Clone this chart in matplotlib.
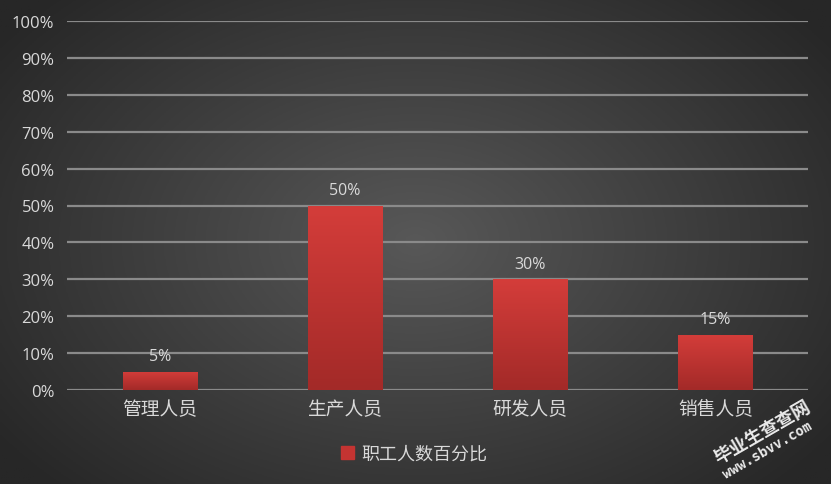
import numpy as np
import matplotlib
matplotlib.use("Agg")
import matplotlib.pyplot as plt
from matplotlib.patches import Rectangle

categories = ["管理人员", "生产人员", "研发人员", "销售人员"]
values = [5, 50, 30, 15]
series_name = "职工人数百分比"
yticks = [0, 10, 20, 30, 40, 50, 60, 70, 80, 90, 100]

plt.rcParams['font.family'] = ['Noto Sans CJK SC', 'DejaVu Sans']

W, H = 831, 485
fig = plt.figure(figsize=(W / 100, H / 100), dpi=100)

# radial gradient background
bg = fig.add_axes([0, 0, 1, 1], zorder=-10)
yy, xx = np.mgrid[0:1:200j, 0:1:340j]
r = np.sqrt(((xx - 0.5) / 0.62) ** 2 + ((yy - 0.5) / 0.72) ** 2)
r = np.clip(r, 0, 1)
c0 = np.array([0x58, 0x58, 0x58]) / 255
c1 = np.array([0x27, 0x27, 0x27]) / 255
img = c0[None, None, :] * (1 - r[..., None]) + c1[None, None, :] * r[..., None]
bg.imshow(img, extent=[0, 1, 0, 1], aspect='auto', origin='lower')
bg.set_axis_off()

ax = fig.add_axes([67 / W, 1 - 391 / H, (808 - 67) / W, (391 - 22) / H])
ax.patch.set_alpha(0)
x = np.arange(len(categories))
width = 0.4
bars = ax.bar(x, values, width=width, color='#c43432', zorder=3)

# gradient fill for bars
grad = np.linspace(0, 1, 100)[:, None]
top = np.array([0xd4, 0x3d, 0x3a]) / 255
bot = np.array([0xa3, 0x2a, 0x28]) / 255
gimg = bot[None, None, :] * (1 - grad[..., None]) + top[None, None, :] * grad[..., None]
gimg = np.repeat(gimg, 2, axis=1)
for b in bars:
    bx, by, bw, bh = b.get_x(), b.get_y(), b.get_width(), b.get_height()
    im = ax.imshow(gimg, extent=[bx, bx + bw, by, by + bh], aspect='auto',
                   origin='lower', zorder=4)
    im.set_clip_path(b)

for xi, v in zip(x, values):
    ax.text(xi, v + 4.2, f"{v}%", ha='center', va='center', color='#d9d9d9',
            fontsize=11.5, zorder=5, family=['Open Sans', 'DejaVu Sans'])

ax.set_xlim(-0.5, len(categories) - 0.5)
ax.set_ylim(0, 100)
ax.set_yticks(yticks)
ax.set_yticklabels([f"{t}%" for t in yticks], color='#d9d9d9', fontsize=12,
                   family=['Open Sans', 'DejaVu Sans'])
ax.set_xticks(x)
ax.set_xticklabels(categories, color='#d9d9d9', fontsize=13.5)
ax.tick_params(axis='y', length=0, pad=9)
ax.tick_params(axis='x', length=0, pad=6)
ax.grid(axis='y', color='#8a8a8a', linewidth=1.6, zorder=1)
for s in ax.spines.values():
    s.set_visible(False)

leg = fig.legend([Rectangle((0, 0), 1, 1, color='#c43432')], [series_name],
                 loc='center', bbox_to_anchor=(414 / W, 1 - 455 / H), frameon=False,
                 fontsize=13, handlelength=0.7, handleheight=0.7, handletextpad=0.4)
for t in leg.get_texts():
    t.set_color('#d9d9d9')

# watermark
fig.text(762 / W, 1 - 433 / H, "毕业生查查网", rotation=30, ha='center', va='center',
         color='white', fontsize=13, fontweight='bold', alpha=0.9)
fig.text(768 / W, 1 - 450 / H, "www.sbvv.com", rotation=30, ha='center', va='center',
         color='white', fontsize=10, fontweight='bold', alpha=0.9,
         family=['DejaVu Sans Mono', 'DejaVu Sans'])

fig.savefig("out.png", dpi=100)
